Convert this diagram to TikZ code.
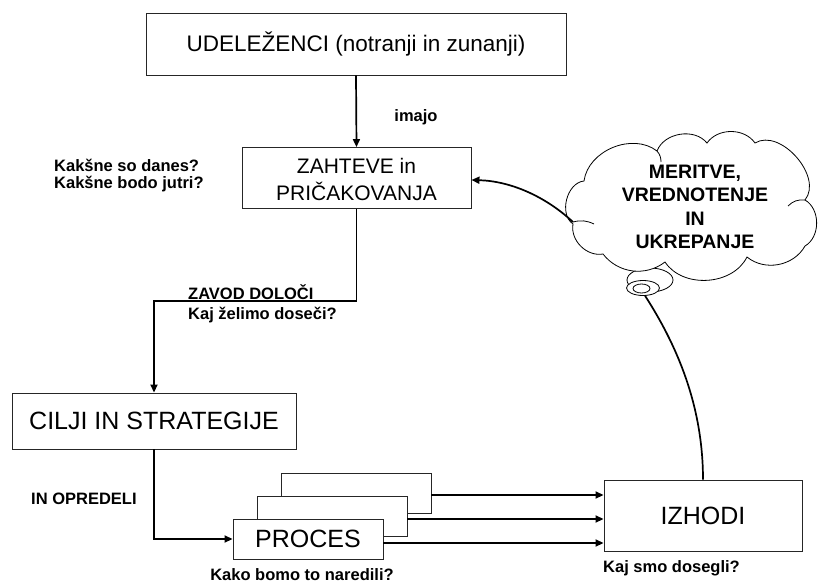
\documentclass[tikz,border=0pt]{standalone}
\usepackage{fontspec}
\setmainfont{Liberation Sans}
\usetikzlibrary{shapes.geometric,arrows.meta}
\begin{document}
\begin{tikzpicture}[x=1pt,y=-1pt,
  box/.style={draw=black!85, line width=0.9pt, fill=white, inner sep=0pt, align=center},
  conn/.style={line width=1.7pt, -{Triangle[length=8pt,width=7pt]}},
  plainline/.style={line width=1.7pt},
  lbl/.style={font=\bfseries\fontsize{16.5}{19}\selectfont, inner sep=0pt},
  bubble/.style={draw=black, line width=0.8pt, fill=white}]
\useasboundingbox (0,0) rectangle (831,584);

% main boxes
\node[box, minimum width=420, minimum height=62, font=\fontsize{22.5}{26}\selectfont]
  (udel) at (356,44) {UDELEŽENCI (notranji in zunanji)};
\node[draw=black!85, line width=0.9pt, fill=white, inner sep=0pt,
  minimum width=229, minimum height=61, font=\fontsize{21}{27}\selectfont]
  (zaht) at (356.5,178)
  {\raisebox{-4pt}[\height][\depth]{\begin{tabular}{@{}c@{}}ZAHTEVE in\\PRIČAKOVANJA\end{tabular}}};
\node[box, minimum width=284, minimum height=56, font=\fontsize{25}{28}\selectfont]
  (cilji) at (154,421) {CILJI IN STRATEGIJE};

% stacked process boxes
\node[box, minimum width=150, minimum height=40] (back) at (356,493) {};
\node[box, minimum width=150, minimum height=40] (mid) at (332,516) {};
\node[box, minimum width=150, minimum height=40, font=\fontsize{25}{28}\selectfont]
  (proces) at (308,539) {PROCES};
\node[box, minimum width=198, minimum height=71, font=\fontsize{25}{28}\selectfont]
  (izhodi) at (703,515.5) {IZHODI};

% thought cloud with bubbles
\draw[bubble] (650,280) ellipse (23 and 12);
\filldraw[bubble] (573,224) to[bend left=70] (584,181) to[bend left=60] (657,151)
  to[bend left=60] (707,143) to[bend left=55] (755,143) to[bend left=80] (805,200)
  to[bend left=60] (805,246) to[bend left=50] (747,257) to[bend left=60] (665,262)
  to[bend left=45] (603,254) to[bend left=55] cycle;
\coordinate (cloudout) at (573,222);
\draw[line width=0.8pt] (cloudout) to[bend left=20] (594,224);
\draw[line width=0.8pt] (805,200) to[bend right=25] (788,206);
\draw[line width=0.8pt] (657,151) to[bend left=20] (661,162);
\node[font=\bfseries\fontsize{19.5}{23.5}\selectfont, align=center, inner sep=0pt]
  (cloudtxt) at (695,207) {MERITVE,\\VREDNOTENJE\\IN\\UKREPANJE};
\node[ellipse, bubble, minimum width=33, minimum height=15, inner sep=0pt] (ring) at (643,288) {};
\node[ellipse, draw=black, line width=0.8pt, minimum width=17, minimum height=9, inner sep=0pt]
  (ringin) at (641.5,288.5) {};

% connectors
\coordinate (k1) at (154,301);
\draw[conn] (udel.south) -- (zaht.north);
\draw[conn] (zaht.south) |- (k1) -- (cilji.north);
\draw[conn] (cilji.south) |- (proces.west);
\draw[conn] ([yshift=-2pt]back.east) -- ([yshift=-2pt]back.east -| izhodi.west);
\draw[conn] ([yshift=-3pt]mid.east) -- ([yshift=-3pt]mid.east -| izhodi.west);
\draw[conn] ([yshift=-4pt]proces.east) -- ([yshift=-4pt]proces.east -| izhodi.west);
\draw[conn] (cloudout) .. controls (545,196) and (510,181) .. ([yshift=-2pt]zaht.east);
\draw[plainline] (ring.-75) .. controls (680,350) and (703,410) .. (izhodi.north);

% labels
\node[lbl] (imajo) at (416,117) {imajo};
\node[lbl, anchor=west, align=left, font=\bfseries\fontsize{16.5}{17}\selectfont]
  (kaksne) at (54,175.5) {Kakšne so danes?\\Kakšne bodo jutri?};
\node[lbl, anchor=west] (zavod) at (188,292) {ZAVOD DOLOČI};
\node[lbl, anchor=west] (zelimo) at (188,315) {Kaj želimo doseči?};
\node[lbl, anchor=west] (opred) at (31,499) {IN OPREDELI};
\node[lbl] (kako) at (302,575) {Kako bomo to naredili?};
\node[lbl, anchor=west] (dosegli) at (603,568) {Kaj smo dosegli?};
\end{tikzpicture}
\end{document}
